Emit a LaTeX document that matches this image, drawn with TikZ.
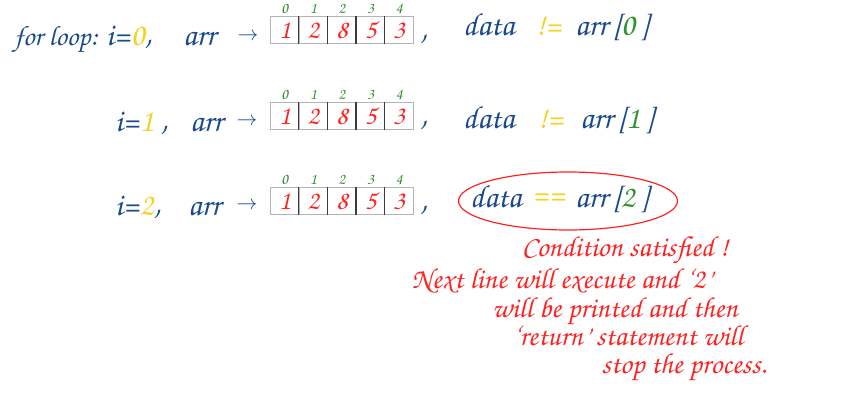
\documentclass[tikz,border=0pt]{standalone}
\usepackage[T1,TU]{fontenc}
\usepackage{xcolor}
\definecolor{penblue}{HTML}{1A4A8A}
\definecolor{penred}{HTML}{FF2222}
\definecolor{penyellow}{HTML}{F4D21E}
\definecolor{pengreen}{HTML}{2F932F}
\definecolor{cellline}{HTML}{B4B4B4}
\definecolor{divline}{HTML}{3C3C3C}
\usepackage{tikz}
\usetikzlibrary{positioning,shapes.geometric}
\newcommand{\chancery}[1]{\fontencoding{T1}\fontfamily{pzc}\fontseries{mb}\fontshape{it}\fontsize{#1}{#1}\selectfont}
\tikzset{
  hand/.style={font=\chancery{32}, text=penblue, inner sep=0pt, anchor=base west},
  pointer/.style={font=\fontsize{22}{22}\selectfont, text=penblue, inner sep=0pt},
  note/.style={font=\chancery{29}, text=penred, inner sep=0pt, anchor=base},
  cell/.style={draw=cellline, line width=0.9pt, minimum width=28.6pt, minimum height=27pt, inner sep=0pt, anchor=north west, font=\chancery{27}, text=penred},
  idx/.style={font=\chancery{16}, text=pengreen, inner sep=0pt},
  divider/.style={divline, line width=1.4pt},
  ring/.style={draw=penred, line width=1.2pt, ellipse, inner sep=0pt, minimum width=219pt, minimum height=58pt},
}

\begin{document}
\begin{tikzpicture}[x=1pt, y=-1pt]
  \useasboundingbox[fill=white] (0,0) rectangle (851,410);
  % the three passes of the loop
  \node[hand, font=\chancery{28}] (head) at (14,45) {for loop:};
  \node[hand] (iv0) at (106,45) {i=\textcolor{penyellow}{0},};
  \node[hand] (iv1) at (115,131) {i=\textcolor{penyellow}{1} ,};
  \node[hand] (iv2) at (115,215) {i=\textcolor{penyellow}{2},};
  \node[hand] (arr0) at (183,45) {arr};
  \node[hand] (arr1) at (190,131) {arr};
  \node[hand] (arr2) at (188,215) {arr};
  \node[pointer] (pt0) at (248,37) {$\rightarrow$};
  \node[pointer] (pt1) at (247,122) {$\rightarrow$};
  \node[pointer] (pt2) at (247,206) {$\rightarrow$};
  % arr drawn once per row
  \foreach \r/\y in {0/16,1/102,2/187} {
    \foreach \v [count=\k from 0] in {1,2,8,5,3} {
      \node[cell] (a\r-\k) at ({270+28.6*\k},\y) {\v};
      \node[idx, above=2pt of a\r-\k] (i\r-\k) {\k};
    }
    \foreach \k in {1,...,4}
      \draw[divider] (a\r-\k.north west) -- (a\r-\k.south west);
  }
  \node[hand] (cm0) at (420,40) {,};
  \node[hand] (cm1) at (420,126) {,};
  \node[hand] (cm2) at (420,211) {,};
  % the test
  \node[hand] (dt0) at (463,35) {data};
  \node[hand] (dt1) at (463,128) {data};
  \node[hand] (dt2) at (470,207) {data};
  \node[hand, text=penyellow] (op0) at (536,35) {!=};
  \node[hand, text=penyellow] (op1) at (538,128) {!=};
  \node[hand, text=penyellow] (op2) at (532,204) {==};
  \node[hand] (el0) at (575,35) {arr\,[\textcolor{pengreen}{0}\,]};
  \node[hand] (el1) at (580,128) {arr\,[\textcolor{pengreen}{1}\,]};
  \node[hand] (el2) at (575,207) {arr\,[\textcolor{pengreen}{2}\,]};
  \node[ring] (ring) at (568,201) {};
  % remark
  \node[note] (n1) at (625,256) {Condition satisfied !};
  \node[note] (n2) at (562,288) {Next line will execute and `2'};
  \node[note] (n3) at (615,317) {will be printed and then};
  \node[note] (n4) at (628,345) {`return' statement will};
  \node[note] (n5) at (684,373) {stop the process.};
\end{tikzpicture}
\end{document}
